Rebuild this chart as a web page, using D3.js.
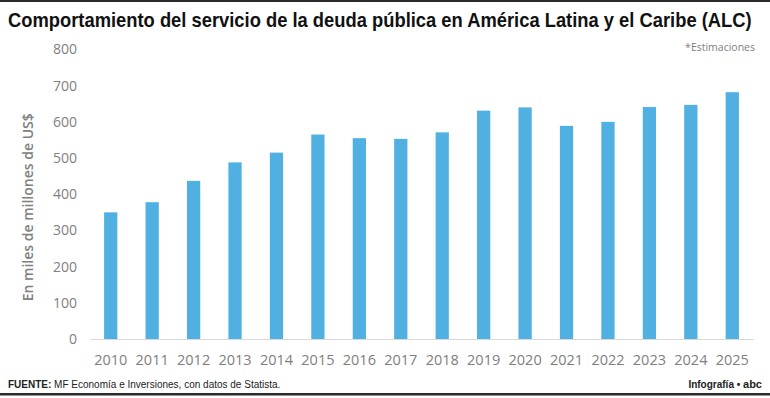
<!DOCTYPE html>
<html>
<head>
<meta charset="utf-8">
<script src="https://cdn.jsdelivr.net/npm/d3@7"></script>
<style>
  body { margin: 0; background: #fff; }
  svg { display: block; }
</style>
</head>
<body>
<div class="chart"></div>
<script>
// datos (miles de millones de US$)
const years = ['2010', '2011', '2012', '2013', '2014', '2015', '2016', '2017',
  '2018', '2019', '2020', '2021', '2022', '2023', '2024', '2025'];
const servicio = [350, 378, 437, 488, 515, 565, 555, 553, 571, 631, 640, 589, 600, 641, 647, 682];
const yTicks = [0, 100, 200, 300, 400, 500, 600, 700, 800];

const width = 770;
const height = 398;
const margin = { top: 49.5, right: 17, bottom: 59, left: 90 };

const svg = d3.select('.chart').append('svg')
  .attr('width', width)
  .attr('height', height);

// marco superior e inferior
svg.append('rect').attr('x', 0).attr('y', 0).attr('width', width).attr('height', 2).attr('fill', '#2b2b2b');
svg.append('rect').attr('x', 0).attr('y', 393).attr('width', width).attr('height', 2.5).attr('fill', '#2b2b2b');

// titulo: letra condensada, se estrecha hasta el ancho del original
const title = svg.append('text')
  .attr('x', 0)
  .attr('y', 0)
  .style('font-family', '"Liberation Sans Narrow", "Liberation Sans", sans-serif')
  .style('font-weight', 'bold')
  .style('font-size', '20px')
  .attr('fill', '#111')
  .text('Comportamiento del servicio de la deuda pública en América Latina y el Caribe (ALC)');
const titleW = title.node().getComputedTextLength();
title.attr('transform', `translate(8, 27) scale(${744 / titleW}, 1)`);

svg.append('text')
  .attr('x', 755)
  .attr('y', 51)
  .attr('text-anchor', 'end')
  .style('font-family', '"Open Sans", sans-serif')
  .style('font-size', '10.5px')
  .attr('fill', '#808080')
  .text('*Estimaciones');

const xScale = d3.scaleBand()
  .domain(years)
  .range([margin.left, width - margin.right])
  .paddingInner(0.68)
  .paddingOuter(0.34);

const yScale = d3.scaleLinear()
  .domain([0, 800])
  .range([height - margin.bottom, margin.top]);

const g = svg.append('g');

g.selectAll('.bar')
  .data(servicio)
  .enter()
  .append('rect')
  .attr('class', 'bar')
  .attr('x', (d, i) => xScale(years[i]))
  .attr('y', d => yScale(d))
  .attr('width', xScale.bandwidth())
  .attr('height', d => yScale(0) - yScale(d))
  .attr('fill', '#50b0e2');

// eje x
const xAxis = g.append('g')
  .attr('transform', `translate(0, ${yScale(0)})`)
  .call(d3.axisBottom(xScale).tickSize(0).tickPadding(16));
xAxis.select('.domain').attr('stroke', '#d9d9d9').attr('stroke-width', 1);
xAxis.selectAll('text')
  .style('font-family', '"Open Sans", sans-serif')
  .style('font-size', '14.5px')
  .attr('fill', '#808080');

// eje y
const yAxis = g.append('g')
  .attr('transform', `translate(${margin.left - 13}, 0)`)
  .call(d3.axisLeft(yScale).tickValues(yTicks).tickSize(0).tickPadding(0));
yAxis.select('.domain').remove();
yAxis.selectAll('text')
  .style('font-family', '"Open Sans", sans-serif')
  .style('font-size', '14px')
  .attr('fill', '#808080');

svg.append('text')
  .attr('transform', `translate(33, ${(yScale(0) + yScale(800)) / 2 + 13}) rotate(-90)`)
  .attr('text-anchor', 'middle')
  .style('font-family', '"Open Sans", sans-serif')
  .style('font-weight', '600')
  .style('font-size', '14px')
  .attr('fill', '#808080')
  .text('En miles de millones de US$');

// pie
const fuente = svg.append('text')
  .attr('x', 8)
  .attr('y', 388)
  .style('font-family', '"Liberation Sans Narrow", "Liberation Sans", sans-serif')
  .style('font-size', '10px')
  .attr('fill', '#222');
fuente.append('tspan').style('font-weight', 'bold').text('FUENTE: ');
fuente.append('tspan').text('MF Economía e Inversiones, con datos de Statista.');

const firma = svg.append('text')
  .attr('x', 762)
  .attr('y', 388)
  .attr('text-anchor', 'end')
  .style('font-family', '"Liberation Sans Narrow", "Liberation Sans", sans-serif')
  .style('font-size', '10px')
  .attr('fill', '#222');
firma.append('tspan').style('font-weight', 'bold').text('Infografía • ');
firma.append('tspan').style('font-weight', 'bold').style('font-size', '11px').text('abc');
</script>
</body>
</html>
